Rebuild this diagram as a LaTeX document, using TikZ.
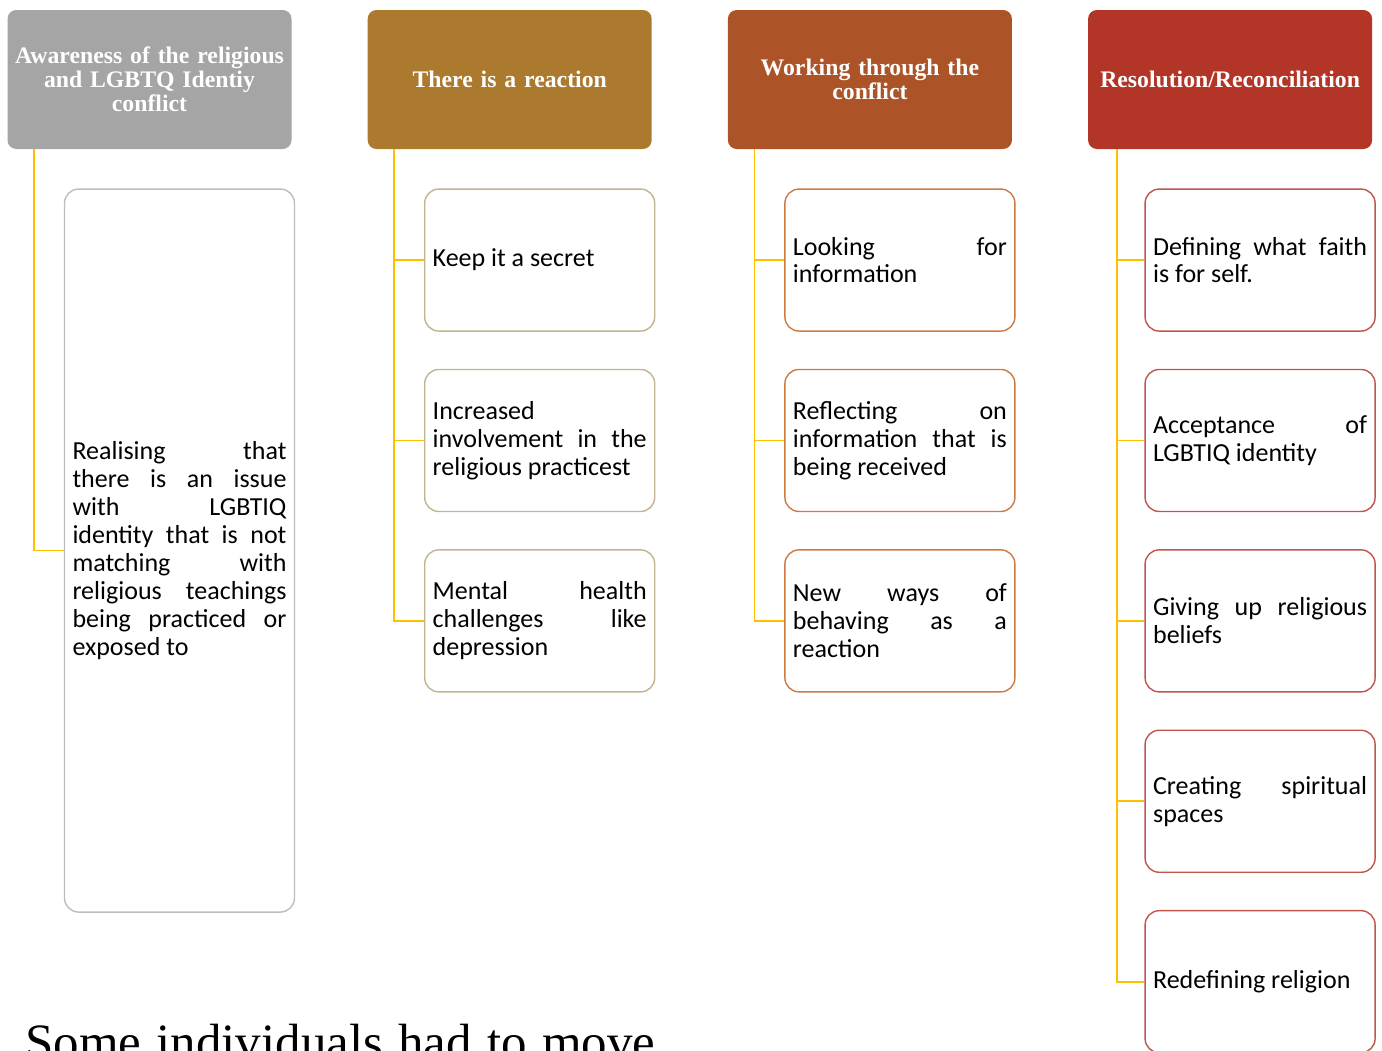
\documentclass[tikz,border=0pt]{standalone}
\usepackage{fontspec}
\usetikzlibrary{positioning}
\newfontfamily\boxfont{Carlito}
\newfontfamily\headfont{Liberation Serif}[WordSpace=0.5]
\newfontfamily\bodyfont{Liberation Serif}
\definecolor{headGray}{HTML}{A5A5A5}
\definecolor{headOchre}{HTML}{AB7A2E}
\definecolor{headRust}{HTML}{AC5427}
\definecolor{headRed}{HTML}{B23527}
\definecolor{linkGold}{HTML}{FFC000}
\definecolor{rimGray}{HTML}{BDBDBD}
\definecolor{rimTan}{HTML}{C2B48F}
\definecolor{rimRust}{HTML}{CD7A45}
\definecolor{rimRed}{HTML}{C0554A}

\begin{document}
\begin{tikzpicture}[node distance=0.74cm,
    head/.style={rounded corners=5pt, text=white, text width=5.4cm, inner xsep=0.14cm,
      minimum height=2.78cm, align=center,
      font={\headfont\bfseries\fontsize{13.5}{13.6}\selectfont}},
    item/.style={draw, line width=0.8pt, rounded corners=8pt, fill=white, text=black,
      text width=4.28cm, inner xsep=0.16cm, minimum height=2.84cm, align=justify,
      font={\boxfont\fontsize{14.8}{15.9}\selectfont}},
    link/.style={draw=linkGold, line width=1pt}]
    \useasboundingbox (0,0) rectangle (27.64,-21);
    % phase headers
    \node[head, fill=headGray] (aware) at (2.99,-1.59) {Awareness of the religious\\and LGBTQ Identiy\\conflict};
    \node[head, fill=headOchre, right=1.51cm of aware] (react) {There is a reaction};
    \node[head, fill=headRust, right=1.51cm of react] (work) {Working through the\\conflict};
    \node[head, fill=headRed, right=1.51cm of work] (resol) {Resolution/Reconciliation};
    % awareness
    \node[item, draw=rimGray, minimum height=14.46cm, below=0.78cm of aware, xshift=0.6cm] (realise)
      {Realising that\linebreak there is an issue\linebreak with LGBTIQ\linebreak identity that is not\linebreak matching with\linebreak religious teachings\linebreak being practiced or\linebreak exposed to};
    % reaction
    \node[item, draw=rimTan, below=0.78cm of react, xshift=0.6cm] (secret) {Keep it a secret};
    \node[item, draw=rimTan, below=of secret] (involve) {Increased\linebreak involvement in the\linebreak religious practicest};
    \node[item, draw=rimTan, below=of involve] (mental) {Mental health\linebreak challenges like\linebreak depression};
    % working through
    \node[item, draw=rimRust, below=0.78cm of work, xshift=0.6cm] (look) {Looking for\linebreak information};
    \node[item, draw=rimRust, below=of look] (reflect) {Reflecting on\linebreak information that is\linebreak being received};
    \node[item, draw=rimRust, below=of reflect] (behave) {New ways of\linebreak behaving as a\linebreak reaction};
    % resolution
    \node[item, draw=rimRed, below=0.78cm of resol, xshift=0.6cm] (faith) {Defining what faith\linebreak is for self.};
    \node[item, draw=rimRed, below=of faith] (accept) {Acceptance of\linebreak LGBTIQ identity};
    \node[item, draw=rimRed, below=of accept] (giveup) {Giving up religious\linebreak beliefs};
    \node[item, draw=rimRed, below=of giveup] (spaces) {Creating spiritual\linebreak spaces};
    \node[item, draw=rimRed, below=of spaces] (redef) {Redefining religion};
    % connectors
    \draw[link] ([xshift=0.54cm]aware.south west) |- (realise.west);
    \draw[link] ([xshift=0.54cm]react.south west) |- (secret.west);
    \draw[link] ([xshift=0.54cm]react.south west) |- (involve.west);
    \draw[link] ([xshift=0.54cm]react.south west) |- (mental.west);
    \draw[link] ([xshift=0.54cm]work.south west) |- (look.west);
    \draw[link] ([xshift=0.54cm]work.south west) |- (reflect.west);
    \draw[link] ([xshift=0.54cm]work.south west) |- (behave.west);
    \draw[link] ([xshift=0.58cm]resol.south west) |- (faith.west);
    \draw[link] ([xshift=0.58cm]resol.south west) |- (accept.west);
    \draw[link] ([xshift=0.58cm]resol.south west) |- (giveup.west);
    \draw[link] ([xshift=0.58cm]resol.south west) |- (spaces.west);
    \draw[link] ([xshift=0.58cm]resol.south west) |- (redef.west);
    % running text below, cut by the page
    \node[anchor=base west, inner sep=0, font={\bodyfont\fontsize{29}{34}\selectfont}] (tail) at (0.5,-21.18)
      {\makebox[12.6cm][s]{Some individuals had to move}};
\end{tikzpicture}
\end{document}
